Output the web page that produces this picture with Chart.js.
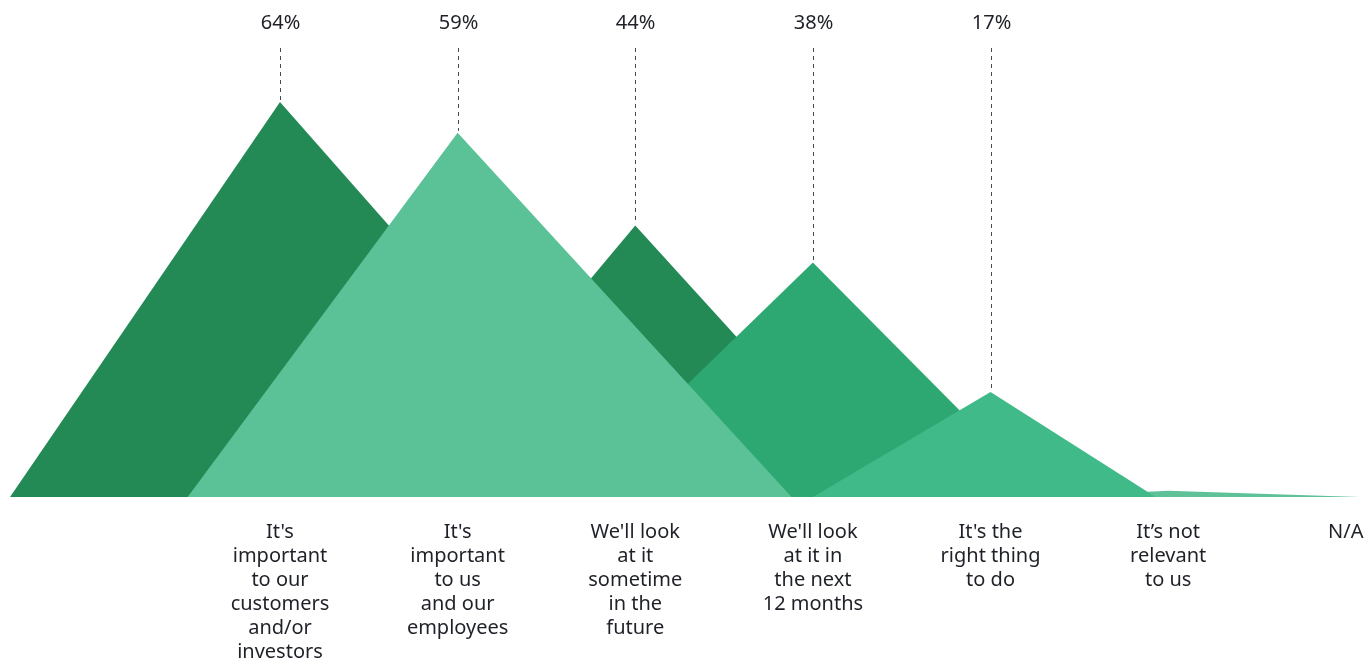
<!DOCTYPE html>
<html>
<head>
<meta charset="utf-8">
<script src="https://cdn.jsdelivr.net/npm/chart.js@4/dist/chart.umd.min.js"></script>
<style>
  html, body { margin: 0; padding: 0; background: #fff; }
  canvas { display: block; }
</style>
</head>
<body>
<canvas id="c" width="1367" height="662"></canvas>
<script>
// Survey answers, one "mountain" per answer
const categories = [
  ["It's", 'important', 'to our', 'customers', 'and/or', 'investors'],
  ["It's", 'important', 'to us', 'and our', 'employees'],
  ["We'll look", 'at it', 'sometime', 'in the', 'future'],
  ["We'll look", 'at it in', 'the next', '12 months'],
  ["It's the", 'right thing', 'to do'],
  ['It’s not', 'relevant', 'to us'],
  ['N/A'],
]
const values = [64, 59, 44, 38, 17, 1, 0]
// how far each mountain's foot reaches left / right, in category widths
const spreadLeft = [1.52, 1.52, 1.28, 1.36, 1.0, 0.72, 0]
const spreadRight = [1.96, 1.88, 1.39, 1.31, 0.93, 1.08, 0]
const showValue = [true, true, true, true, true, false, false]

// look
const colors = ['#238A56', '#5BC196', '#238A56', '#2EA872', '#41BA89', '#5EC197', '#5EC197']
const layer = [5, 0, 4, 3, 1, 2, 6] // lower = drawn on top
const FONT = '"Noto Sans", "Open Sans", sans-serif'
const TEXT = '#1f2128'

const datasets = values.map((v, i) => ({
  label: categories[i].join(' '),
  data: [
    { x: i - spreadLeft[i], y: 0 },
    { x: i, y: v },
    { x: i + spreadRight[i], y: 0 },
  ],
  backgroundColor: colors[i],
  borderWidth: 0,
  pointRadius: 0,
  fill: 'origin',
  tension: 0,
  order: layer[i],
}))

// dotted leader lines + percentage labels above each peak
const peakLabels = {
  id: 'peakLabels',
  afterDatasetsDraw(chart) {
    const { ctx, scales: { x, y } } = chart
    ctx.save()
    values.forEach((v, i) => {
      if (!showValue[i]) return
      const px = Math.round(x.getPixelForValue(i)) + 0.5
      const py = y.getPixelForValue(v)
      ctx.strokeStyle = '#3a4f5a'
      ctx.lineWidth = 1
      ctx.setLineDash([4, 4])
      ctx.beginPath()
      ctx.moveTo(px, 48)
      ctx.lineTo(px, py - 2)
      ctx.stroke()
      ctx.setLineDash([])
      ctx.fillStyle = TEXT
      ctx.font = '20px ' + FONT
      ctx.textAlign = 'center'
      ctx.textBaseline = 'middle'
      ctx.fillText(v + '%', px, 23)
    })
    ctx.restore()
  },
}

new Chart(document.getElementById('c'), {
  type: 'line',
  data: { datasets },
  options: {
    responsive: false,
    animation: false,
    devicePixelRatio: 1,
    layout: { padding: { left: 10, right: 7, top: 102, bottom: 0 } },
    plugins: { legend: { display: false }, tooltip: { enabled: false } },
    scales: {
      x: {
        type: 'linear',
        min: -1.52,
        max: 6.08,
        grid: { display: false, drawTicks: false },
        border: { display: false },
        afterBuildTicks: s => { s.ticks = categories.map((_, i) => ({ value: i })) },
        afterFit: s => {
          s.height = 165
          s.paddingLeft = 0
          s.paddingRight = 0
        },
        ticks: {
          autoSkip: false,
          maxRotation: 0,
          padding: 23,
          color: TEXT,
          font: { family: FONT, size: 20, lineHeight: '24px' },
          callback: v => categories[v],
        },
      },
      y: {
        display: false,
        min: 0,
        max: 64,
      },
    },
  },
  plugins: [peakLabels],
})
</script>
</body>
</html>
